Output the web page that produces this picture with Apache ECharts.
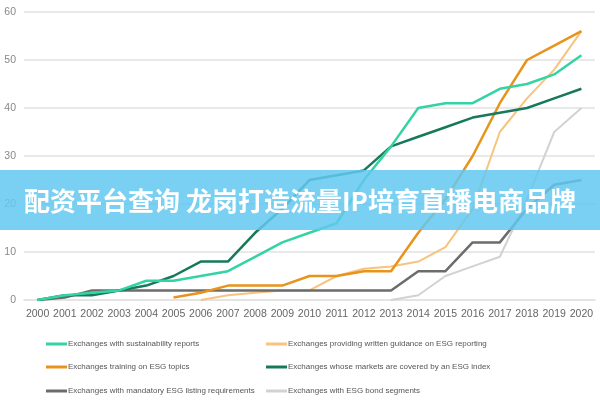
<!DOCTYPE html>
<html>
<head>
<meta charset="utf-8">
<script src="https://cdn.jsdelivr.net/npm/echarts@6/dist/echarts.min.js"></script>
<style>html,body{margin:0;padding:0;background:#fff}#c{width:600px;height:400px}</style>
</head>
<body>
<div id="c"></div>
<script>
var years = ['2000','2001','2002','2003','2004','2005','2006','2007','2008','2009','2010','2011','2012','2013','2014','2015','2016','2017','2018','2019','2020'];
var sustainability = [0,1,1.5,2,4,4,5,6,9,12,14,16,25,32,40,41,41,44,45,47,51];
var esgIndex = [0,1,1,2,3,5,8,8,14,19,25,26,27,32,34,36,38,39,40,42,44];
var training = [null,null,null,null,null,0.5,1.5,3,3,3,5,5,6,6,14,21,30,41,50,53,56];
var guidance = [null,null,null,null,null,null,0,1,1.5,2,2,5,6.5,7,8,11,19,35,42,48,56];
var mandatory = [0,0.5,2,2,2,2,2,2,2,2,2,2,2,2,6,6,12,12,19,24,25];
var bond = [null,null,null,null,null,null,null,null,null,null,null,null,null,0,1,5,7,9,21,35,40];
var names = {
  s: 'Exchanges with sustainability reports',
  g: 'Exchanges providing written guidance on ESG reporting',
  t: 'Exchanges training on ESG topics',
  e: 'Exchanges whose markets are covered by an ESG index',
  m: 'Exchanges with mandatory ESG listing requirements',
  b: 'Exchanges with ESG bond segments'
};
var bannerText = '配资平台查询 龙岗打造流量IP培育直播电商品牌';

function line(name, data, color, width, z) {
  return { name: name, type: 'line', data: data, symbol: 'none', z: z,
    lineStyle: { color: color, width: width }, itemStyle: { color: color } };
}
var legendText = { color: '#555', fontSize: 8, fontFamily: 'Liberation Sans Narrow, Arial Narrow, sans-serif', lineHeight: 12, padding: [0, 0, 0, -4] };
function leg(name, left, top) {
  return { left: left, top: top, icon: 'rect', itemWidth: 21, itemHeight: 3, padding: 0,
    textStyle: legendText, data: [name] };
}
var chart = echarts.init(document.getElementById('c'), null, { renderer: 'canvas' });
chart.setOption({
  animation: false,
  grid: { left: 24, right: 5, top: 12, bottom: 100 },
  xAxis: {
    type: 'category', data: years, boundaryGap: true,
    axisLine: { lineStyle: { color: '#e2e2e2', width: 1.5 } },
    axisTick: { show: false },
    axisLabel: { color: '#666', fontSize: 10.5, margin: 9, fontFamily: 'Liberation Sans Narrow, sans-serif', interval: 0 }
  },
  yAxis: {
    type: 'value', min: 0, max: 60, interval: 10,
    axisLine: { show: false }, axisTick: { show: false },
    splitLine: { lineStyle: { color: '#e2e2e2', width: 1.5 } },
    axisLabel: { color: '#888', fontSize: 10.5, margin: 8, fontFamily: 'Liberation Sans Narrow, sans-serif' }
  },
  legend: [
    leg(names.s, 46, 338), leg(names.t, 46, 361), leg(names.m, 46, 385),
    leg(names.g, 266, 338), leg(names.e, 266, 361), leg(names.b, 266, 385)
  ],
  series: [
    line(names.b, bond, '#d2d2d2', 2, 1),
    line(names.g, guidance, '#f6c47e', 2, 2),
    line(names.m, mandatory, '#6c6c6c', 2.5, 3),
    line(names.t, training, '#e8931c', 2.5, 4),
    line(names.e, esgIndex, '#17795b', 2.5, 5),
    line(names.s, sustainability, '#34d3a4', 2.5, 6)
  ],
  graphic: [
    { type: 'rect', z: 100, shape: { x: 0, y: 170, width: 600, height: 60 },
      style: { fill: 'rgba(97,200,240,0.85)' } },
    { type: 'text', z: 101, x: 300, y: 201,
      style: { text: bannerText, align: 'center', verticalAlign: 'middle', fill: '#ffffff',
        font: 'bold 26px "Noto Sans CJK SC", sans-serif' } }
  ]
});
</script>
</body>
</html>
